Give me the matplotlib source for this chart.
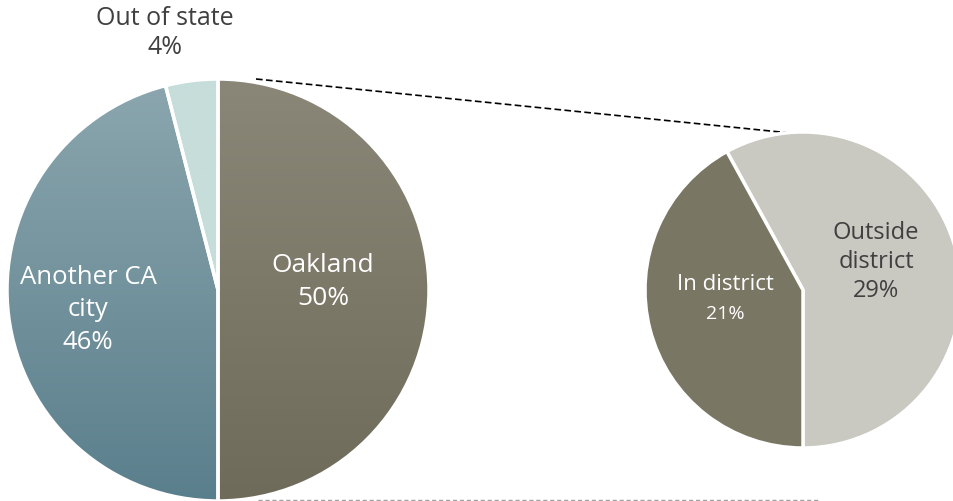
import numpy as np
import matplotlib
matplotlib.use('Agg')
import matplotlib.pyplot as plt
from matplotlib.colors import LinearSegmentedColormap

# main pie
main_labels = ['Oakland', 'Another CA\ncity', 'Out of state']
main_values = [50, 46, 4]
main_top = ['#8b8778', '#8ba6ae', '#c6ddda']
main_bottom = ['#6f6b5a', '#5a7f8c', '#c6ddda']

# breakdown of Oakland
sub_labels = ['Outside\ndistrict', 'In district']
sub_values = [29, 21]
sub_colors = ['#c9c8c1', '#7a7664']

plt.rcParams['font.family'] = ['Open Sans', 'DejaVu Sans']

fig = plt.figure(figsize=(9.54, 5.01), dpi=100)
ax = fig.add_axes([0, 0, 1, 1])

c1, r1 = (218, 211), 211
c2, r2 = (803, 211), 158

w1, _ = ax.pie(main_values, center=c1, radius=r1, startangle=90,
               counterclock=False, frame=True,
               wedgeprops=dict(edgecolor='white', linewidth=2.5))
w2, _ = ax.pie(sub_values, center=c2, radius=r2, startangle=-90,
               counterclock=True, frame=True,
               wedgeprops=dict(edgecolor='white', linewidth=2.5))

# vertical gradient fill for the big pie
grad = np.linspace(0, 1, 256).reshape(-1, 1)
for w, top, bot in zip(w1, main_top, main_bottom):
    cm = LinearSegmentedColormap.from_list('g', [bot, top])
    im = ax.imshow(grad, cmap=cm, origin='lower', aspect='auto',
                   extent=[c1[0]-r1, c1[0]+r1, c1[1]-r1, c1[1]+r1], zorder=1)
    im.set_clip_path(w)
    w.set_facecolor('none')
    w.set_zorder(2)
for w, col in zip(w2, sub_colors):
    w.set_facecolor(col)

# connector lines
ax.plot([c1[0]+38, c2[0]-3], [c1[1]+r1, c2[1]+r2-2], color='black',
        linestyle=(0, (4, 2)), linewidth=1.2, zorder=0)
ax.plot([c1[0]+40, c2[0]+17], [1.2, 1.2], color='#a0a0a0',
        linestyle=(0, (3, 2)), linewidth=1.0, zorder=0)

# labels
ax.text(323, 219, '%s\n%d%%' % (main_labels[0], main_values[0]),
        color='white', fontsize=19, ha='center', va='center', linespacing=1.42, zorder=5)
ax.text(88, 191, '%s\n%d%%' % (main_labels[1], main_values[1]),
        color='white', fontsize=18.5, ha='center', va='center', linespacing=1.37, zorder=5)
ax.text(165, 468, '%s\n%d%%' % (main_labels[2], main_values[2]),
        color='#404040', fontsize=18, ha='center', va='center', linespacing=1.2, zorder=5)
ax.text(876, 239, '%s\n%d%%' % (sub_labels[0], sub_values[0]),
        color='#404040', fontsize=17, ha='center', va='center', linespacing=1.3, zorder=5)
ax.text(725, 216, sub_labels[1], color='white', fontsize=16,
        ha='center', va='center', zorder=5)
ax.text(725, 187, '%d%%' % sub_values[1], color='white', fontsize=14,
        ha='center', va='center', zorder=5)

ax.set_xlim(0, 954)
ax.set_ylim(0, 501)
ax.axis('off')

plt.savefig('out.png', dpi=100)
